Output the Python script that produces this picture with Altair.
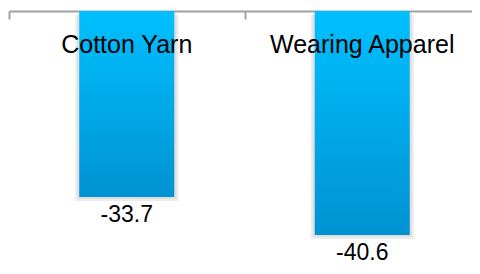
import altair as alt
import pandas as pd

categories = ["Cotton Yarn", "Wearing Apparel"]
values = [-33.7, -40.6]
value_labels = ["-33.7", "-40.6"]

df = pd.DataFrame({"cat": categories, "val": values, "lab": value_labels})

FONT = "Liberation Sans"
H = 229

x = alt.X("cat:N", sort=categories,
          scale=alt.Scale(paddingInner=0, paddingOuter=0, range=[0, 471]),
          axis=alt.Axis(orient="bottom", offset=-H, title=None, labels=False, tickBand="extent",
                        domainColor="#A0A0A0", domainWidth=2, tickColor="#A0A0A0",
                        tickWidth=2, tickSize=8, grid=False))
y = alt.Y("val:Q", scale=alt.Scale(domain=[-41.5, 0], nice=False), axis=None)

base = alt.Chart(df)

shadow = base.mark_bar(width=103, color="#ECECEC", yOffset=4).encode(x=x, y=y)
shadow2 = base.mark_bar(width=99, color="#D2D2D2", yOffset=2, opacity=0.5).encode(x=x, y=y)

bars = base.mark_bar(
    width=95,
    color=alt.Gradient(
        gradient="linear",
        stops=[alt.GradientStop(color="#00C0FF", offset=0),
               alt.GradientStop(color="#0092D2", offset=1)],
        x1=0, x2=0, y1=0, y2=1,
    ),
).encode(x=x, y=y)

cat_text = base.mark_text(font=FONT, fontSize=25, color="#000000", baseline="middle").encode(
    x=alt.X("cat:N", sort=categories), y=alt.value(34), text="cat:N")

val_text = base.mark_text(font=FONT, fontSize=23, color="#000000", baseline="middle", dy=18).encode(
    x=alt.X("cat:N", sort=categories), y=y, text="lab:N")

chart = alt.layer(shadow, shadow2, bars, cat_text, val_text).properties(
    width=463, height=H,
    padding={"left": 1, "top": 3, "right": 0, "bottom": 26},
    autosize=alt.AutoSizeParams(type="none"),
).configure_view(stroke=None)

chart.save("out.html", embed_options={"renderer": "svg", "actions": False})
